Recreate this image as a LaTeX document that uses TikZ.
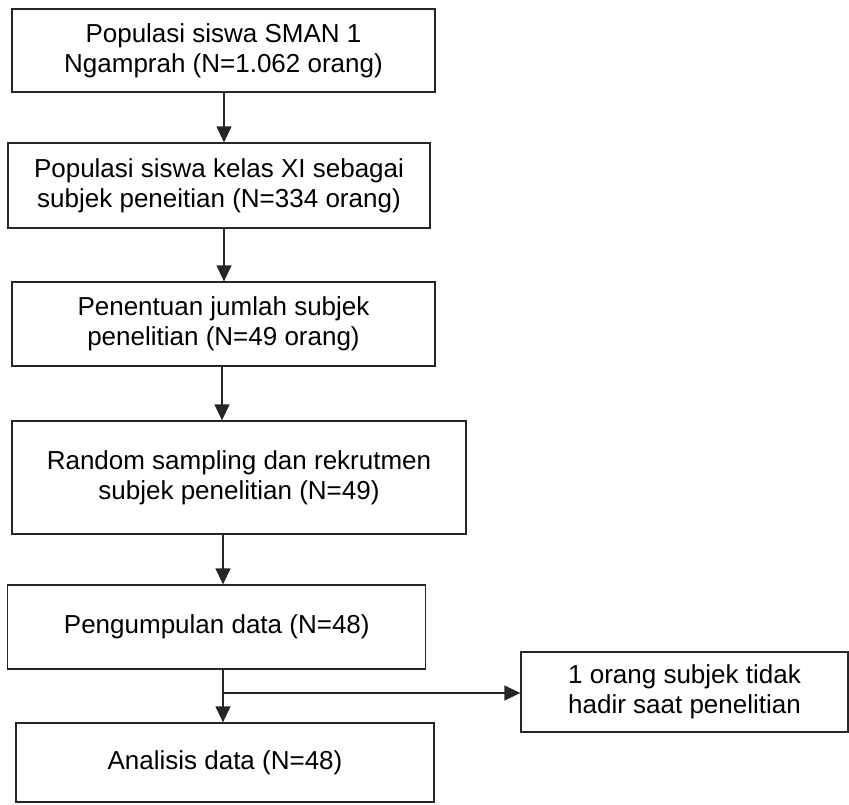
\documentclass[tikz,border=0pt]{standalone}
\usepackage{fontspec}
\setmainfont{Liberation Sans}
\usetikzlibrary{arrows.meta,calc}
\begin{document}
\begin{tikzpicture}[x=1pt,y=-1pt,
  box/.style={draw=black!85,line width=1.3pt,rectangle,align=center,inner sep=0pt,
    font=\fontsize{26}{30}\selectfont},
  arr/.style={draw=black!85,line width=1.3pt,-{Triangle[length=16pt,width=15pt]}},
  ln/.style={draw=black!85,line width=1.3pt}]
\useasboundingbox (0,0) rectangle (849,804);
\node[box,minimum width=423pt,minimum height=83pt] (b1) at (223.5,50.5) {Populasi siswa SMAN 1\\Ngamprah (N=1.062 orang)};
\node[box,minimum width=422pt,minimum height=85pt] (b2) at (219,185.5) {Populasi siswa kelas XI sebagai\\subjek peneitian (N=334 orang)};
\node[box,minimum width=423pt,minimum height=84pt] (b3) at (223.5,324) {Penentuan jumlah subjek\\penelitian (N=49 orang)};
\node[box,minimum width=454pt,minimum height=113pt] (b4) at (239,477.5) {Random sampling dan rekrutmen\\subjek penelitian (N=49)};
\node[box,minimum width=418pt,minimum height=84pt] (b5) at (216.8,627) {Pengumpulan data (N=48)};
\node[box,minimum width=327pt,minimum height=80pt] (b6) at (684.5,692) {1 orang subjek tidak\\hadir saat penelitian};
\node[box,minimum width=418pt,minimum height=79pt] (b7) at (225,762.5) {Analisis data (N=48)};
\coordinate (a1) at (224,0);
\coordinate (a2) at (224,0);
\coordinate (a3) at (222,0);
\coordinate (a4) at (223,0);
\coordinate (a5) at (223,0);
\coordinate (j) at (223,693);
\draw[arr] (b1.south -| a1) -- (b2.north -| a1);
\draw[arr] (b2.south -| a2) -- (b3.north -| a2);
\draw[arr] (b3.south -| a3) -- (b4.north -| a3);
\draw[arr] (b4.south -| a4) -- (b5.north -| a4);
\draw[arr] (b5.south -| a5) -- (b7.north -| a5);
\draw[arr] (j) -- (j -| b6.west);
\end{tikzpicture}
\end{document}
